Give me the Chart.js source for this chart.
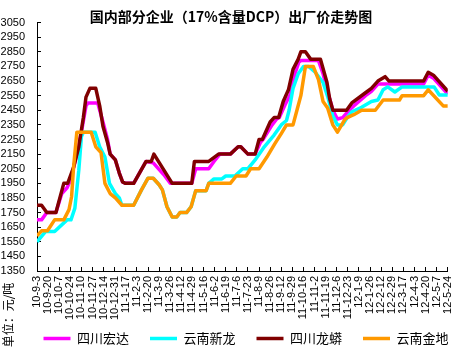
<!DOCTYPE html>
<html>
<head>
<meta charset="utf-8">
<script src="https://cdn.jsdelivr.net/npm/chart.js@4/dist/chart.umd.min.js"></script>
<style>
  body { margin: 0; background: #fff; }
</style>
</head>
<body>
<canvas id="chart1" width="470" height="351"></canvas>
<script>
const titleText = "国内部分企业（17%含量DCP）出厂价走势图";
const unitText = "单位：元/吨";

// one label every 17 days, starting 2010-9-3
const tickLabels = ["10-9-3", "10-9-20", "10-10-7", "10-10-24", "10-11-10", "10-11-27", "10-12-14", "10-12-31",
  "11-1-17", "11-2-3", "11-2-20", "11-3-9", "11-3-26", "11-4-12", "11-4-29", "11-5-16", "11-6-2", "11-6-19",
  "11-7-6", "11-7-23", "11-8-9", "11-8-26", "11-9-12", "11-9-29", "11-10-16", "11-11-2", "11-11-19", "11-12-6",
  "11-12-23", "12-1-9", "12-1-26", "12-2-12", "12-2-29", "12-3-17", "12-4-3", "12-4-20", "12-5-7", "12-5-24"];

const seriesNames = ["四川宏达", "云南新龙", "四川龙蟒", "云南金地"];

// days counted from 2010-9-3, prices in 元/吨
const hongdaDays = [0, 7, 15, 29, 38, 46, 52, 61, 68, 75, 78, 93, 101, 108, 112, 120, 126, 131, 135, 148,
  167, 178, 194, 204, 237, 243, 263, 271, 280, 296, 308, 312, 323, 334, 342, 346, 360, 367, 371, 380,
  388, 395, 401, 404, 431, 438, 445, 453, 460, 468, 478, 485, 503, 512, 522, 542, 592, 599, 607, 629];
const hongdaPrices = [1700, 1700, 1750, 1750, 1880, 1920, 1980, 2150, 2300, 2480, 2500, 2500, 2370, 2250, 2150, 2110, 2020, 1960, 1950, 1950,
  2100, 2090, 2010, 1950, 1950, 2050, 2050, 2100, 2150, 2150, 2200, 2200, 2150, 2150, 2230, 2250, 2350, 2390, 2400, 2490,
  2560, 2700, 2780, 2790, 2790, 2700, 2580, 2450, 2390, 2400, 2450, 2480, 2550, 2580, 2630, 2630, 2630, 2690, 2670, 2560];

const xinlongDays = [0, 13, 27, 46, 52, 58, 64, 68, 71, 89, 96, 104, 111, 120, 126, 130, 148, 160, 170, 178,
  187, 192, 199, 207, 214, 219, 229, 236, 243, 259, 263, 271, 283, 289, 303, 315, 323, 334, 348, 363,
  374, 382, 386, 392, 400, 408, 416, 426, 438, 445, 453, 460, 468, 475, 482, 497, 512, 522, 530, 537,
  548, 559, 608, 616, 629];
const xinlongPrices = [1550, 1620, 1620, 1700, 1700, 1780, 2040, 2270, 2300, 2300, 2200, 2130, 1950, 1880, 1850, 1800, 1800, 1905, 1985, 1985,
  1940, 1905, 1790, 1720, 1720, 1750, 1750, 1790, 1900, 1900, 1950, 1980, 1980, 2000, 2000, 2050, 2050, 2110, 2200, 2280,
  2350, 2380, 2450, 2600, 2700, 2750, 2750, 2710, 2640, 2545, 2410, 2350, 2350, 2400, 2440, 2470, 2510, 2520, 2590, 2610,
  2575, 2610, 2610, 2555, 2555];

const longmangDays = [0, 7, 15, 29, 41, 47, 56, 64, 71, 75, 81, 90, 96, 101, 108, 112, 120, 126, 131, 135,
  148, 167, 175, 179, 207, 237, 241, 263, 278, 296, 308, 312, 323, 334, 340, 345, 357, 363, 370, 377,
  385, 392, 400, 404, 411, 419, 434, 444, 448, 453, 474, 482, 503, 512, 522, 533, 539, 592, 599, 607, 629];
const longmangPrices = [1800, 1800, 1750, 1750, 1950, 1950, 2060, 2200, 2400, 2540, 2600, 2600, 2480, 2340, 2230, 2150, 2110, 2020, 1960, 1950,
  1950, 2100, 2100, 2150, 1950, 1950, 2100, 2100, 2150, 2150, 2200, 2200, 2150, 2150, 2250, 2250, 2370, 2400, 2400, 2510,
  2590, 2730, 2800, 2850, 2850, 2800, 2800, 2640, 2530, 2450, 2450, 2500, 2570, 2600, 2650, 2680, 2650, 2650, 2710, 2690, 2580];

const jindiDays = [0, 7, 16, 27, 41, 49, 53, 56, 61, 83, 90, 98, 104, 112, 120, 130, 148, 160, 170, 178,
  187, 192, 199, 207, 214, 219, 229, 236, 243, 259, 263, 296, 305, 320, 327, 340, 352, 364, 374, 382,
  392, 398, 404, 411, 423, 431, 438, 445, 453, 460, 471, 475, 485, 497, 518, 530, 555, 559, 592, 599, 622, 629];
const jindiPrices = [1590, 1625, 1625, 1700, 1700, 1770, 1860, 2060, 2300, 2300, 2200, 2160, 1950, 1880, 1850, 1800, 1800, 1905, 1985, 1985,
  1940, 1905, 1790, 1720, 1720, 1750, 1750, 1790, 1900, 1900, 1950, 1950, 2000, 2000, 2050, 2050, 2130, 2220, 2290, 2350,
  2350, 2450, 2550, 2750, 2750, 2660, 2510, 2465, 2350, 2300, 2385, 2400, 2420, 2450, 2450, 2520, 2520, 2550, 2550, 2590, 2480, 2480];

let toPoints = (days, prices) => days.map((d, i) => ({ x: d, y: prices[i] }));

let line = (label, days, prices, color, order) => ({
  label: label,
  data: toPoints(days, prices),
  borderColor: color,
  backgroundColor: color,
  borderWidth: 3.5,
  borderJoinStyle: "round",
  pointRadius: 0,
  tension: 0,
  order: order, /* lower order is drawn on top */
});

// unit label sits under the y axis, rotated
const unitLabel = {
  id: "unitLabel",
  afterDraw(chart) {
    const c = chart.ctx;
    c.save();
    c.translate(8, 315);
    c.rotate(-Math.PI / 2);
    c.font = '12px "Noto Sans CJK SC"';
    c.fillStyle = "#000";
    c.textAlign = "center";
    c.textBaseline = "middle";
    c.fillText(unitText, 0, 0);
    c.restore();
  },
};

// legend in the original sits a little right of centre and overlaps the label band
const legendShift = {
  id: "legendShift",
  afterLayout(chart) {
    const lg = chart.legend;
    lg.left += 15;
    lg.right += 15;
    lg.top -= 12;
    lg.bottom -= 12;
  },
};

const tickFont = { family: '"Liberation Sans", Arial', size: 11 };

const ctx = document.getElementById("chart1");
const config = {
  type: "line",
  data: {
    datasets: [
      line(seriesNames[0], hongdaDays, hongdaPrices, "#ff00ff", 4),
      line(seriesNames[1], xinlongDays, xinlongPrices, "#00ffff", 3),
      line(seriesNames[2], longmangDays, longmangPrices, "#800000", 2),
      line(seriesNames[3], jindiDays, jindiPrices, "#ff9900", 1),
    ],
  },
  options: {
    responsive: false,
    animation: false,
    devicePixelRatio: 1,
    layout: { padding: { left: 0, right: 8, top: 0, bottom: -16 } },
    plugins: {
      title: {
        display: true,
        text: titleText,
        color: "#000",
        font: { family: '"Noto Sans CJK SC"', size: 14, weight: "bold" },
        padding: { top: 8, bottom: -2.8 },
      },
      legend: {
        position: "bottom",
        labels: {
          usePointStyle: true,
          pointStyle: "line",
          pointStyleWidth: 27,
          padding: 21,
          color: "#000",
          font: { family: '"Noto Sans CJK SC"', size: 13 },
          sort: (a, b) => a.datasetIndex - b.datasetIndex,
        },
      },
      tooltip: { enabled: false },
    },
    scales: {
      x: {
        type: "linear",
        min: 0,
        max: 629,
        grid: { drawOnChartArea: false, tickLength: -4, color: "#000" },
        border: { color: "#000" },
        ticks: {
          stepSize: 17,
          autoSkip: false,
          minRotation: 90,
          maxRotation: 90,
          padding: 9,
          color: "#000",
          font: tickFont,
          callback: (v, i) => tickLabels[i],
        },
        afterFit: (s) => { s.height = 52; },
      },
      y: {
        min: 1350,
        max: 3050,
        grid: { drawOnChartArea: false, tickLength: -4, color: "#000" },
        border: { color: "#000" },
        ticks: { stepSize: 100, autoSkip: false, padding: 16, color: "#000", font: tickFont, callback: (v) => String(v) },
        afterFit: (s) => { s.width = 37; },
      },
    },
  },
  plugins: [unitLabel, legendShift],
};
const chart = new Chart(ctx, config);
</script>
</body>
</html>
